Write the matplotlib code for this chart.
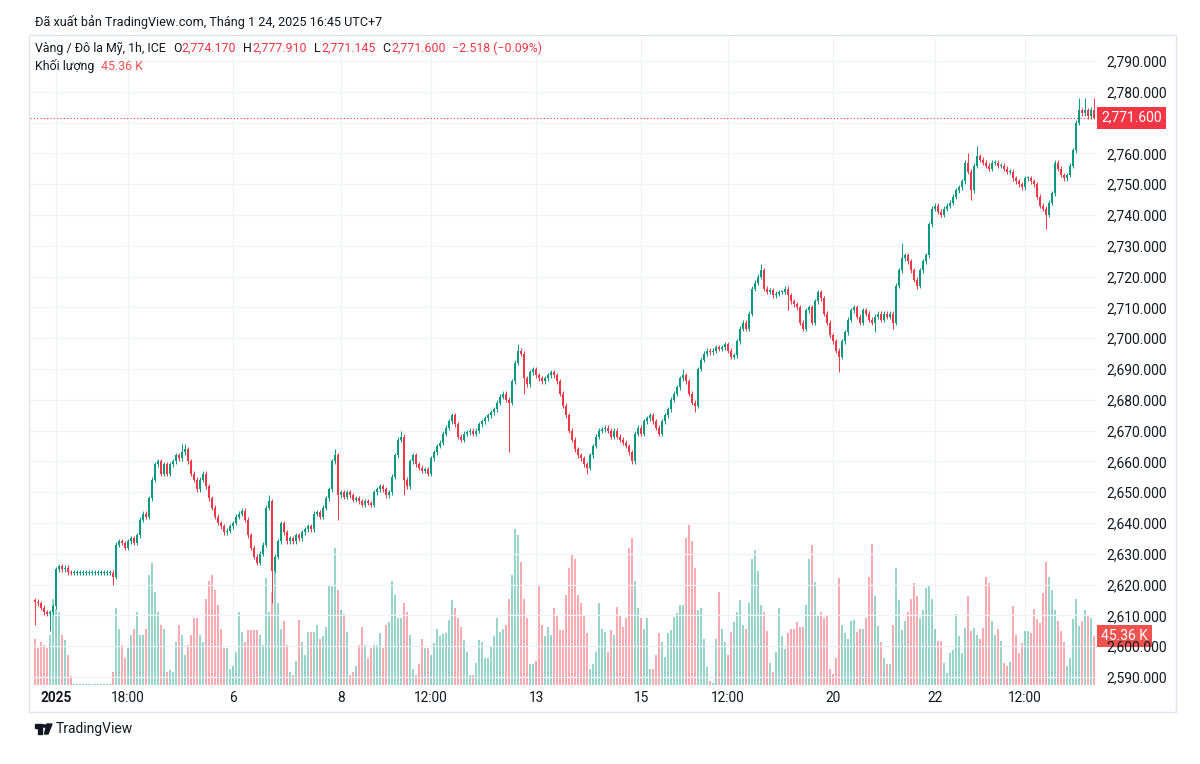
import matplotlib
matplotlib.use("Agg")
import matplotlib.pyplot as plt
import numpy as np
from matplotlib.patches import Rectangle, Circle, Polygon
from matplotlib.ticker import FuncFormatter
import matplotlib.transforms as mtransforms

plt.rcParams['font.family'] = ['Roboto', 'DejaVu Sans']

# hourly closes (Vàng / Đô la Mỹ, 1h)
closes = [
    2614.5, 2614, 2612.5, 2611, 2610.5, 2611, 2613, 2625, 2626, 2625, 2625.5, 2624,
    2623.8, 2623.8, 2623.8, 2623.8, 2623.8, 2623.8, 2623.8, 2623.8, 2623.8, 2623.8, 2623.8, 2623.8, 2623.8, 2623.8,
    2622.5, 2633, 2634, 2633.5, 2632, 2634, 2635, 2633.5, 2636, 2641, 2643, 2642,
    2648, 2654, 2659, 2660, 2656, 2659, 2656, 2659, 2660, 2662, 2661, 2663,
    2664, 2660, 2656, 2654, 2651, 2654, 2656, 2652, 2648, 2645, 2642, 2640,
    2639, 2637, 2637.5, 2639, 2640, 2642, 2643, 2644, 2641, 2636, 2632, 2629,
    2627, 2630, 2633, 2645, 2647, 2624.5, 2629, 2634, 2640, 2637, 2634, 2635,
    2634, 2636, 2635, 2637, 2638, 2639, 2638, 2643, 2643.5, 2642, 2645, 2648,
    2651, 2660, 2662, 2649, 2650, 2648.5, 2650, 2649, 2647.5, 2648, 2647, 2646,
    2647, 2646.5, 2646, 2650, 2651, 2652, 2651, 2649, 2650, 2655, 2662, 2667,
    2668, 2654, 2652, 2660, 2662, 2659, 2658, 2657, 2657.5, 2656, 2661, 2663,
    2665, 2666, 2669, 2671, 2673, 2675, 2672, 2668, 2667, 2669, 2669.5, 2670,
    2669, 2670, 2672, 2673, 2674, 2675, 2676, 2677, 2679, 2681, 2682, 2680,
    2679, 2686, 2692, 2696, 2695, 2687, 2685, 2689, 2690, 2688, 2687, 2686,
    2687, 2688, 2689, 2688, 2686, 2682, 2678, 2675, 2670, 2667, 2664, 2662,
    2661, 2659, 2658, 2662, 2665, 2668, 2670, 2670.5, 2671, 2670, 2668, 2670,
    2668, 2667, 2666, 2665, 2663, 2660, 2669, 2671, 2669, 2673, 2674, 2675,
    2673, 2671, 2669, 2673, 2675, 2677, 2680, 2682, 2684, 2687, 2688, 2686,
    2682, 2679, 2678, 2690, 2693, 2695, 2696, 2695.5, 2696, 2697, 2696.5, 2697,
    2698, 2696, 2694, 2694.5, 2699, 2703, 2705, 2703, 2708, 2716, 2718, 2720,
    2722, 2716, 2715, 2715.5, 2714, 2714.5, 2715, 2715, 2716, 2714, 2712, 2711,
    2710, 2705, 2703, 2709, 2710, 2705, 2712, 2715, 2713, 2708, 2705, 2701,
    2699, 2696, 2694, 2699, 2702, 2706, 2709, 2710, 2707, 2705, 2709, 2708,
    2706, 2705, 2707, 2708, 2706, 2708, 2707, 2708, 2705, 2717, 2722, 2726,
    2727, 2725, 2722, 2719, 2717, 2722, 2725, 2727, 2737, 2742, 2743, 2741,
    2740, 2742, 2743, 2744, 2746, 2748, 2749, 2751, 2757, 2754, 2748, 2756,
    2759, 2758, 2757, 2756, 2755, 2757, 2757, 2756, 2756, 2755, 2754, 2754,
    2752, 2751, 2750, 2749, 2752, 2752, 2751, 2750, 2746, 2743, 2742, 2740,
    2744, 2747, 2757, 2755, 2753, 2752, 2753, 2756, 2761, 2770, 2774, 2773,
    2774, 2772, 2774.17, 2771.6,
]
first_open = 2615.0

# volume in thousands
volumes = [
    43, 34, 40, 37, 34, 46, 80, 70, 68, 46, 42, 28,
    8, 0.5, 0.5, 0.5, 0.5, 0.5, 0.5, 0.5, 0.5, 0.5, 0.5, 0.5, 0.5, 0.5,
    12, 71, 52, 37, 25, 34, 46, 52, 68, 46, 46, 52,
    102, 113, 86, 68, 56, 52, 12, 14, 12, 40, 56, 46,
    28, 37, 46, 62, 62, 46, 40, 80, 96, 102, 88, 74,
    52, 34, 34, 15, 18, 31, 68, 49, 40, 51, 51, 51,
    51, 46, 37, 99, 68, 86, 108, 76, 52, 59, 37, 12,
    9, 22, 60, 40, 28, 49, 49, 49, 56, 43, 45, 54,
    93, 93, 127, 88, 69, 66, 49, 9, 12, 18, 37, 54,
    37, 25, 34, 37, 37, 48, 34, 56, 58, 96, 83, 62,
    62, 76, 68, 46, 15, 9, 19, 43, 34, 34, 28, 39,
    52, 45, 47, 48, 60, 79, 71, 62, 54, 42, 31, 9,
    9, 20, 42, 40, 25, 25, 36, 45, 62, 49, 52, 56,
    80, 102, 144, 139, 114, 80, 62, 19, 19, 22, 93, 56,
    45, 54, 46, 71, 65, 51, 51, 83, 108, 120, 117, 83,
    76, 65, 48, 15, 19, 31, 76, 52, 49, 31, 51, 46,
    72, 65, 54, 62, 127, 136, 96, 71, 62, 52, 62, 15,
    15, 28, 48, 40, 26, 48, 51, 63, 67, 74, 74, 136,
    148, 133, 108, 69, 71, 43, 17, 4, 2, 43, 86, 52,
    40, 28, 49, 58, 68, 79, 56, 52, 76, 117, 125, 106,
    74, 68, 50, 20, 12, 31, 71, 45, 33, 48, 52, 52,
    58, 54, 54, 74, 117, 130, 95, 65, 68, 62, 65, 15,
    10, 25, 99, 56, 48, 43, 59, 60, 49, 52, 52, 62,
    100, 131, 82, 55, 40, 25, 19, 19, 56, 108, 79, 51,
    59, 68, 80, 94, 82, 62, 69, 90, 93, 80, 52, 41,
    41, 20, 11, 30, 32, 66, 45, 30, 53, 82, 50, 53,
    46, 43, 53, 100, 94, 59, 46, 52, 41, 20, 18, 21,
    73, 46, 30, 39, 50, 50, 48, 70, 61, 57, 85, 114,
    100, 88, 69, 59, 50, 40, 18, 25, 61, 80, 55, 59,
    69, 64, 62, 45.36,
]

# long wicks that stand out: index -> high / low
wick_highs = {49: 2665.5, 50: 2665.5, 78: 2649, 100: 2664, 122: 2670, 161: 2698,
              216: 2690, 242: 2724, 289: 2731, 311: 2760, 314: 2762.5,
              348: 2778, 350: 2778, 353: 2777.91}
wick_lows = {0: 2607, 5: 2605, 26: 2620, 79: 2614, 101: 2641, 123: 2649,
             158: 2663, 163: 2682, 184: 2656, 199: 2659, 220: 2676, 251: 2709,
             268: 2689, 280: 2702, 286: 2703, 294: 2716, 312: 2745, 337: 2735.6,
             353: 2771.145}

tick_idx = [7, 31, 66, 102, 132, 167, 202, 231, 266, 300, 330]
tick_labels = ["2025", "18:00", "6", "8", "12:00", "13", "15", "12:00", "20", "22", "12:00"]
price_ticks = list(range(2590, 2791, 10))
change_txt = "\u22122.518 (\u22120.09%)"

UP = "#089981"
DOWN = "#f23645"
TEXT = "#131722"
GRID = "#f0f3fa"

opens = [first_open] + closes[:-1]
n = len(closes)
idx = np.arange(n)
highs = []
lows = []
for i in range(n):
    highs.append(wick_highs.get(i, max(opens[i], closes[i]) + 0.8))
    lows.append(wick_lows.get(i, min(opens[i], closes[i]) - 0.8))
colors = [UP if closes[i] >= opens[i] else DOWN for i in range(n)]

W, H = 1200, 764
def fx(px):
    return px / W
def fy(py):
    return 1 - py / H

fig = plt.figure(figsize=(12, 7.64), dpi=100)
fig.patch.set_facecolor("white")

rect = [fx(30), fy(685), fx(1097) - fx(30), fy(38) - fy(685)]
# volume pane underneath the candles
axv = fig.add_axes(rect)
ax = fig.add_axes(rect, sharex=axv)
ax.patch.set_visible(False)

axv.bar(idx, volumes, width=0.62, color=colors, alpha=0.42, linewidth=0)
axv.set_ylim(0, 599)
axv.set_yticks([])
for s in axv.spines.values():
    s.set_visible(False)
axv.set_xticks(tick_idx)
axv.set_xticklabels(tick_labels)
axv.tick_params(axis="x", length=0, pad=4, labelsize=9.8, labelcolor=TEXT)
axv.get_xticklabels()[0].set_fontweight("bold")
axv.set_xlim(-1.67, 354)
for t in tick_idx:
    axv.axvline(t, color=GRID, lw=0.9, zorder=0)

# candles
ax.vlines(idx, lows, highs, colors=colors, linewidth=0.7)
body_low = [min(o, c) for o, c in zip(opens, closes)]
body_h = [max(abs(c - o), 0.25) for o, c in zip(opens, closes)]
ax.bar(idx, body_h, bottom=body_low, width=0.62, color=colors, linewidth=0)

last = closes[-1]

def price_fmt(v, p):
    # the last-price tag covers this label
    if abs(v - 2770) < 0.01:
        return ""
    return f"{v:,.3f}"

ax.set_ylim(2587.4, 2797.47)
ax.set_yticks(price_ticks)
ax.yaxis.set_major_formatter(FuncFormatter(price_fmt))
ax.yaxis.tick_right()
ax.tick_params(axis="y", length=0, pad=7, labelsize=10, labelcolor=TEXT)
ax.tick_params(axis="x", length=0, labelbottom=False)
ax.grid(axis="y", color=GRID, lw=0.9, zorder=0)
ax.set_axisbelow(True)
for s in ax.spines.values():
    s.set_visible(False)

ax.axhline(last, color=DOWN, lw=0.8, ls=(0, (1, 2)))
trans = mtransforms.blended_transform_factory(ax.transAxes, ax.transData)
ax.text(1.004, last, f"{last:,.3f}", transform=trans, color="white", fontsize=10,
        va="center", ha="left",
        bbox=dict(boxstyle="square,pad=0.3", fc=DOWN, ec="none"))
transv = mtransforms.blended_transform_factory(axv.transAxes, axv.transData)
axv.text(1.004, volumes[-1], f"{volumes[-1]:.2f} K", transform=transv, color="white",
         fontsize=10, va="center", ha="left", zorder=5,
         bbox=dict(boxstyle="square,pad=0.3", fc="#ef5350", ec="none"))

# pane border
fig.add_artist(Rectangle((fx(29), fy(712)), fx(1176) - fx(29), fy(35) - fy(712),
                         transform=fig.transFigure, fill=False, ec="#e0e3eb", lw=1))

fig.text(fx(35), fy(22), "Đã xuất bản TradingView.com, Tháng 1 24, 2025 16:45 UTC+7",
         fontsize=9.1, color=TEXT, va="center", ha="left")

renderer = fig.canvas.get_renderer()
def draw_pieces(x_px, y_px, pieces, size):
    x = x_px
    for s, c, gap in pieces:
        t = fig.text(fx(x), fy(y_px), s, color=c, fontsize=size, va="center", ha="left")
        x += t.get_window_extent(renderer=renderer).width + gap

legend = [
    ("Vàng / Đô la Mỹ, 1h, ICE", TEXT, 7),
    ("O", TEXT, 0.5), (f"{opens[-1]:,.3f}", DOWN, 7),
    ("H", TEXT, 0.5), (f"{highs[-1]:,.3f}", DOWN, 7),
    ("L", TEXT, 0.5), (f"{lows[-1]:,.3f}", DOWN, 7),
    ("C", TEXT, 0.5), (f"{closes[-1]:,.3f}", DOWN, 7),
    (change_txt, DOWN, 0),
]
draw_pieces(35, 48, legend, 8.9)
draw_pieces(35, 66, [("Khối lượng", TEXT, 7), ("45.36 K", "#ef5350", 0)], 8.9)

# TradingView logo
fig.add_artist(Rectangle((fx(35), fy(728)), fx(42) - fx(35), fy(724) - fy(728),
                         transform=fig.transFigure, color=TEXT))
fig.add_artist(Rectangle((fx(38), fy(734)), fx(41.5) - fx(38), fy(728) - fy(734),
                         transform=fig.transFigure, color=TEXT))
fig.add_artist(Circle((fx(44.5), fy(726)), 1.8 / W, transform=fig.transFigure, color=TEXT))
fig.add_artist(Polygon([(fx(47), fy(724)), (fx(52), fy(724)), (fx(48), fy(734)), (fx(44.5), fy(734))],
                       closed=True, transform=fig.transFigure, color=TEXT))
fig.text(fx(56), fy(729), "TradingView", fontsize=10, color=TEXT, va="center", ha="left")

fig.savefig("out.png", dpi=100)
